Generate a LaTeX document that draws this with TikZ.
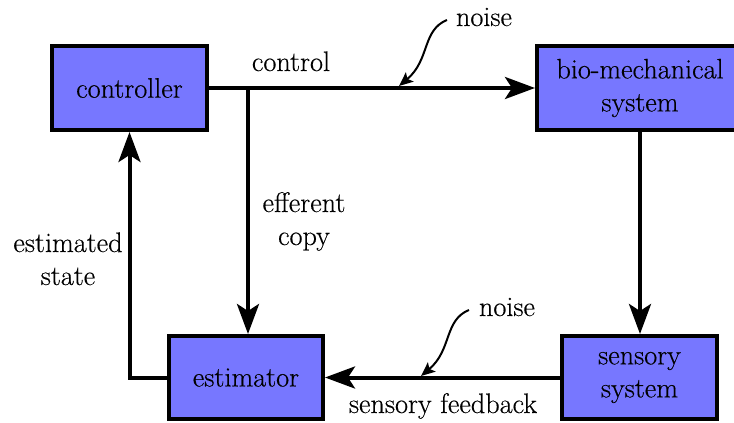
\documentclass[tikz,border=0pt]{standalone}
\usepackage{fontspec}
\newfontfamily\lmfont{Latin Modern Roman}[FakeBold=0.35]
\usetikzlibrary{arrows.meta}
\definecolor{boxblue}{RGB}{119,119,255}
\begin{document}
\begin{tikzpicture}[x=0.5pt,y=-0.5pt,
  txt/.style={font=\lmfont\fontsize{14.1pt}{16.5pt}\selectfont},
  box/.style={txt, draw=black, line width=2pt, fill=boxblue, inner sep=0pt, align=center},
  lbl/.style={txt, inner sep=0pt, align=center},
  arr/.style={line width=2pt, -{Stealth[length=15pt,width=11pt,inset=3.5pt]}},
  noisearr/.style={line width=1pt, -{Stealth[length=7pt,width=6pt,inset=1.5pt]}}]
\useasboundingbox (0,0) rectangle (734,423);
% boxes
\node[box, minimum width=77.5pt, minimum height=42pt] (ctrl) at (129.5,88) {controller};
\node[box, minimum width=103pt, minimum height=42pt] (bio) at (640,88) {bio-mechanical\\system};
\node[box, minimum width=77pt, minimum height=41.5pt] (est) at (246,377.5) {estimator};
\node[box, minimum width=77.5pt, minimum height=41.5pt] (sens) at (639.5,377.5) {sensory\\system};
% labels
\node[lbl, anchor=base] (lcontrol) at (291,71) {control};
\node[lbl, anchor=base] (leff) at (304,245) {efferent\\copy};
\node[lbl, anchor=base] (lest) at (68,285) {estimated\\state};
\node[lbl, anchor=base] (lsf) at (443,413) {sensory feedback};
\node[lbl, anchor=base] (noise1) at (484,26) {noise};
\node[lbl, anchor=base] (noise2) at (507,316) {noise};
% connectors
\coordinate (br) at (248,88);
\draw[arr] (ctrl.east) -- (bio.west);
\draw[arr] (br) -- (br |- est.north);
\draw[arr] (bio.south) -- (bio.south |- sens.north);
\draw[arr] (sens.west) -- (est.east);
\draw[arr] (est.west) -| (ctrl.south);
% noise arrows
\coordinate (n1s) at (447,20);
\coordinate (n1e) at (399,86);
\coordinate (n2s) at (469,310);
\coordinate (n2e) at (421,376);
\draw[noisearr] (n1s) .. controls (422,30) and (430,60) .. (n1e);
\draw[noisearr] (n2s) .. controls (444,320) and (452,350) .. (n2e);
\end{tikzpicture}
\end{document}
